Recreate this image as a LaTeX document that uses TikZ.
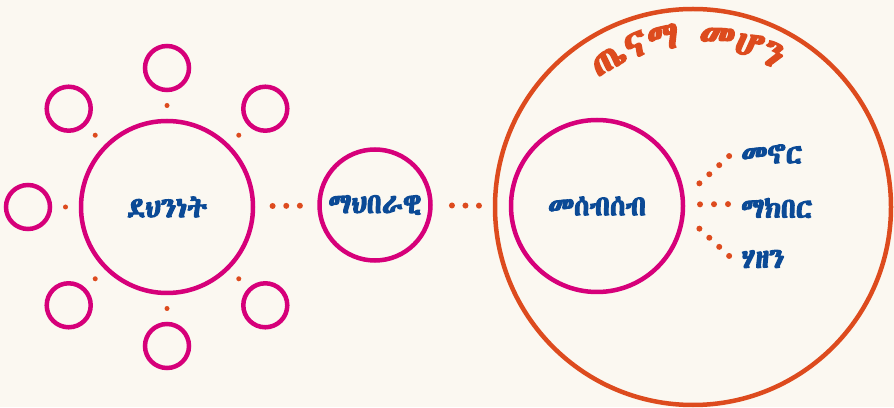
\documentclass[tikz,border=0pt]{standalone}
\usepackage{fontspec}
\usetikzlibrary{calc,decorations.markings,decorations.text}
\IfFontExistsTF{Abyssinica SIL}
  {\newfontfamily\ethfont{Abyssinica SIL}[BoldFont={Abyssinica SIL},BoldFeatures={FakeBold=4}]}
  {\newfontfamily\ethfont{DejaVu Sans}}
\definecolor{ringpink}{HTML}{D6007A}
\definecolor{ringorange}{HTML}{DD4B1E}
\definecolor{labelblue}{HTML}{0B4A96}
\definecolor{paper}{HTML}{FBF8F1}

\begin{document}
\begin{tikzpicture}[x=1pt,y=1pt,
  ring/.style={circle,draw=ringpink,line width=4.5pt,inner sep=0pt},
  main node/.style={ring,minimum size=172pt,font=\ethfont\bfseries\fontsize{28}{32}\selectfont,text=labelblue},
  small node/.style={ring,minimum size=44pt},
  leaf/.style={inner sep=0pt,anchor=west,font=\ethfont\bfseries\fontsize{28}{32}\selectfont,text=labelblue},
  onedot/.style={decoration={markings,mark=at position 0.5 with {\fill[ringorange] (0,0) circle (2.5pt);}},decorate},
  dotrow/.style n args={3}{decoration={markings,mark=between positions #1 and #2 step #3 with {\fill[ringorange] (0,0) circle (3pt);}},decorate}]
                    \fill[paper] (0,0) rectangle (894,407);
                    \useasboundingbox (0,0) rectangle (894,407);

                    \node[main node] (safe) at (167,200) {ደህንነት};
                    \foreach \a in {45,90,...,315} {
                        \node[small node] (s\a) at ($(safe)+(\a:139)$) {};
                        \path[onedot] (safe) -- (s\a);
                    }

                    \node[main node,minimum size=111pt] (social) at (375,202) {ማህበራዊ};

                    \node[circle,draw=ringorange,line width=4.5pt,inner sep=0pt,minimum size=396pt] (healthy) at (693,200) {};
                    \node[main node] (gather) at (597,201) {መሰብሰብ};

                    \node[leaf] (live) at (741,253) {መኖር};
                    \node[leaf] (honour) at (741,199) {ማክበር};
                    \node[leaf] (grief) at (741,148) {ሃዘን};

                    \path[dotrow={0.28}{0.721}{0.22}] (safe) -- (social);
                    \path[dotrow={0.32}{0.771}{0.225}] (social) -- (healthy);
                    \path[dotrow={0.27}{0.821}{0.183}] (gather.6.5) -- ([xshift=-2pt,yshift=7pt]live.west);
                    \path[dotrow={0.265}{0.771}{0.251}] (gather.1.5) -- ([yshift=4pt]honour.west);
                    \path[dotrow={0.27}{0.821}{0.183}] (gather.-6.5) -- ([xshift=-2pt,yshift=-6pt]grief.west);

                    \path[decorate,decoration={text along path,text align=center,text color=ringorange,
                        text={|\ethfont\bfseries\fontsize{38}{42}\selectfont|ጤናማ መሆን}}]
                        ($(healthy)+(135:160)$) arc[start angle=135,end angle=50,radius=160];
\end{tikzpicture}
\end{document}
